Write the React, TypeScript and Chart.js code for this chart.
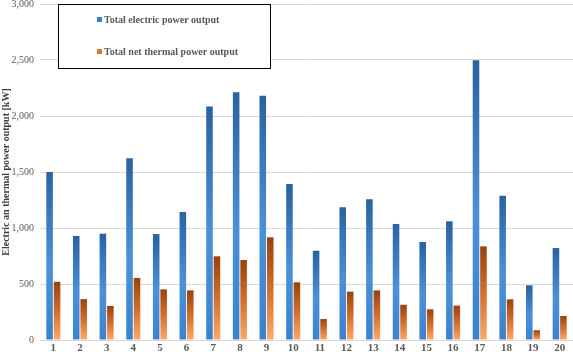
import React, { useEffect, useRef } from "react";
import { Chart, registerables } from "chart.js";

Chart.register(...registerables);

const categories = ["1","2","3","4","5","6","7","8","9","10","11","12","13","14","15","16","17","18","19","20"];
const electricOutput = [1500, 929, 949, 1622, 946, 1143, 2085, 2212, 2181, 1392, 797, 1185, 1256, 1036, 875, 1060, 2497, 1289, 488, 821];
const thermalOutput = [520, 365, 304, 554, 452, 443, 747, 714, 917, 515, 187, 432, 443, 315, 274, 307, 836, 363, 87, 214];
const seriesLabels = ["Total electric power output", "Total net thermal power output"];
const yAxisTitle = "Electric an thermal power output [kW]";

const blueStops: [number, string][] = [[0, "#2a62a0"], [0.55, "#4a91da"], [1, "#3b82cc"]];
const orangeStops: [number, string][] = [[0, "#97420f"], [0.5, "#d46d2c"], [1, "#f9ab6c"]];
const legendColors = ["#3a7fc6", "#e0752f"];

function makeGradient(stops: [number, string][]) {
  return (ctx: any) => {
    const chart = ctx.chart;
    const { chartArea } = chart;
    if (!chartArea || ctx.type !== "data") return stops[1][1];
    const yScale = chart.scales.y;
    const v = ctx.raw as number;
    const top = yScale.getPixelForValue(v);
    const bottom = yScale.getPixelForValue(0);
    if (!isFinite(top) || !isFinite(bottom) || bottom - top < 1) return stops[1][1];
    const g = chart.ctx.createLinearGradient(0, top, 0, bottom);
    stops.forEach(([o, c]) => g.addColorStop(o, c));
    return g;
  };
}

const legendBoxPlugin = {
  id: "legendBox",
  afterDraw(chart: any) {
    const ctx = chart.ctx;
    const x = 58, y = 4, w = 212, h = 64;
    ctx.save();
    ctx.fillStyle = "#ffffff";
    ctx.fillRect(x, y, w, h);
    ctx.strokeStyle = "#000000";
    ctx.lineWidth = 1;
    ctx.strokeRect(x + 0.5, y + 0.5, w, h);
    ctx.font = "bold 10px 'Liberation Serif', serif";
    ctx.textBaseline = "middle";
    chart.data.datasets.forEach((ds: any, i: number) => {
      const cy = y + 16 + i * 32;
      ctx.fillStyle = legendColors[i];
      ctx.fillRect(x + 39, cy - 3, 5, 5);
      ctx.fillStyle = "#595959";
      ctx.fillText(ds.label, x + 46, cy);
    });
    ctx.restore();
  },
};

export default function App() {
  const canvasRef = useRef<HTMLCanvasElement>(null);

  useEffect(() => {
    document.body.style.margin = "0";
    const canvas = canvasRef.current;
    if (!canvas) return;
    const chart = new Chart(canvas, {
      type: "bar",
      data: {
        labels: categories,
        datasets: [
          {
            label: seriesLabels[0],
            data: electricOutput,
            backgroundColor: makeGradient(blueStops),
            categoryPercentage: 0.56,
            barPercentage: 0.88,
          },
          {
            label: seriesLabels[1],
            data: thermalOutput,
            backgroundColor: makeGradient(orangeStops),
            categoryPercentage: 0.56,
            barPercentage: 0.88,
          },
        ],
      },
      options: {
        responsive: false,
        animation: false,
        layout: { padding: { top: 4, right: 0, left: 0, bottom: 0 } },
        plugins: {
          legend: { display: false },
          tooltip: { enabled: false },
        },
        scales: {
          x: {
            grid: { display: false, drawTicks: false },
            border: { display: true, color: "#d9d9d9" },
            ticks: {
              color: "#595959",
              font: { family: "'Liberation Serif', serif", size: 11, weight: "bold" },
              padding: 2,
              maxRotation: 0,
              autoSkip: false,
            },
            afterFit: (s: any) => { s.height = 15; s.paddingLeft = 0; s.paddingRight = 0; },
          },
          y: {
            min: 0,
            max: 3000,
            ticks: {
              stepSize: 500,
              color: "#595959",
              font: { family: "'Liberation Serif', serif", size: 10 },
              padding: 6,
              callback: (v: any) => Number(v).toLocaleString("en-US"),
            },
            grid: { color: "#d9d9d9", drawTicks: false },
            border: { display: false },
            title: {
              display: true,
              text: yAxisTitle,
              color: "#404040",
              font: { family: "'Liberation Serif', serif", size: 10, weight: "bold" },
              padding: { top: 0, bottom: 0 },
            },
            afterFit: (s: any) => { s.width = 40; s.paddingTop = 0; s.paddingBottom = 0; },
          },
        },
      },
      plugins: [legendBoxPlugin],
    });
    return () => chart.destroy();
  }, []);

  return (
    <div style={{ position: "absolute", left: 0, top: 0, width: 573, height: 355 }}>
      <canvas ref={canvasRef} width={573} height={355} />
    </div>
  );
}
